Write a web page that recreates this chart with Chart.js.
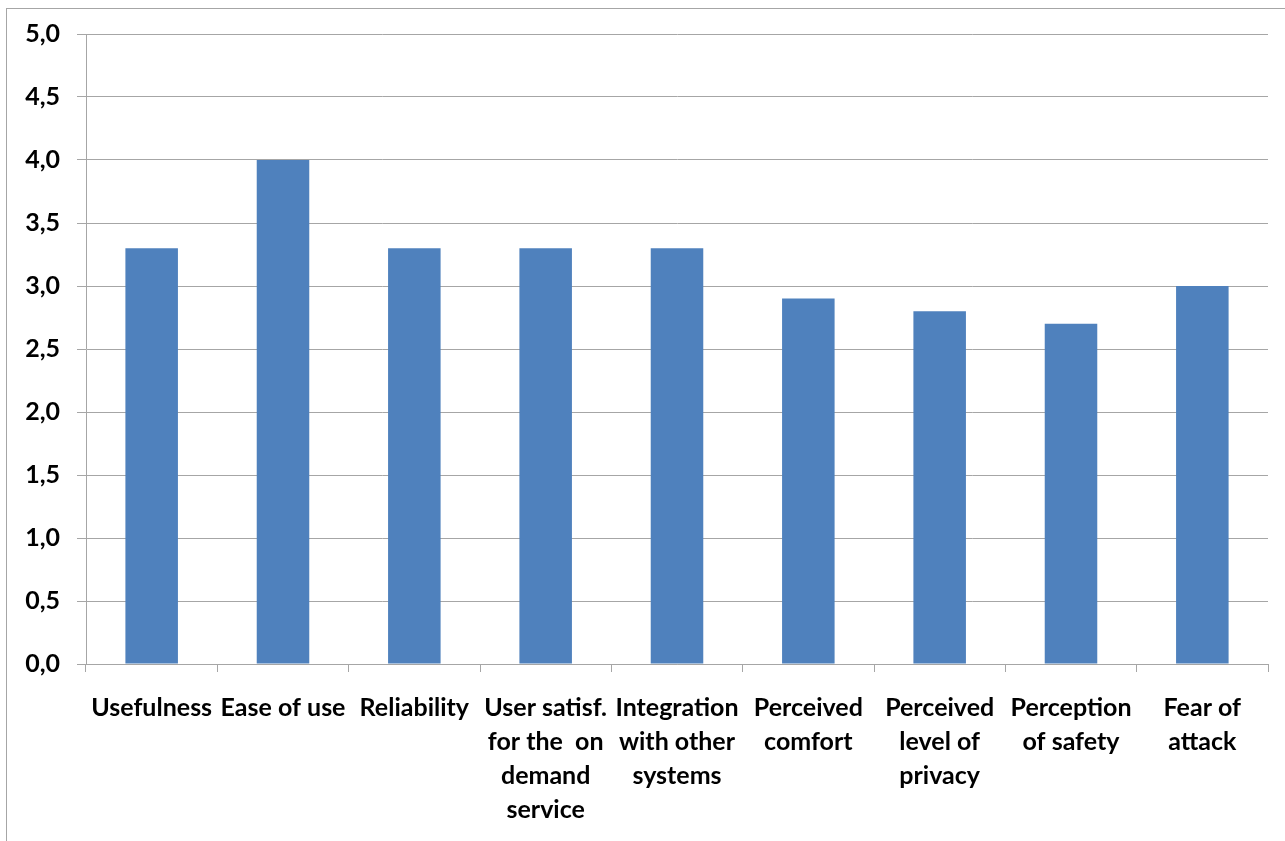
<!DOCTYPE html>
<html>
<head>
<meta charset="utf-8">
<script src="https://cdn.jsdelivr.net/npm/chart.js@4.4.1/dist/chart.umd.min.js"></script>
<style>
  html, body { margin: 0; padding: 0; background: #fff; }
  #frame {
    position: absolute; left: 6px; top: 8px; width: 1300px; height: 860px;
    border-left: 1px solid #a6a6a6; border-top: 1px solid #a6a6a6;
  }
  #wrap { position: absolute; left: 0; top: 0; width: 1285px; height: 841px; }
</style>
</head>
<body>
<div id="frame"></div>
<div id="wrap"><canvas id="barChart"></canvas></div>
<script>
// ── data ─────────────────────────────────────────────────────────────────────
const categories = [
  'Usefulness',
  'Ease of use',
  'Reliability',
  ['User satisf.', 'for the  on', 'demand', 'service'],
  ['Integration', 'with other', 'systems'],
  ['Perceived', 'comfort'],
  ['Perceived', 'level of', 'privacy'],
  ['Perception', 'of safety'],
  ['Fear of', 'attack'],
];
const scores   = [3.3, 4.0, 3.3, 3.3, 3.3, 2.9, 2.8, 2.7, 3.0];
const yTicks   = [0, 0.5, 1, 1.5, 2, 2.5, 3, 3.5, 4, 4.5, 5];

const GRID  = '#a6a6a6';
const FONT  = { family: 'Lato', size: 25, weight: 'bold' };

new Chart(document.getElementById('barChart'), {
  type: 'bar',
  data: {
    labels: categories,
    datasets: [{
      data: scores,
      backgroundColor: '#4f81bd',
      borderWidth: 0,
      categoryPercentage: 1,
      barPercentage: 0.4,
    }],
  },
  options: {
    responsive: true,
    maintainAspectRatio: false,
    animation: false,
    layout: { padding: { left: 0, top: 34, right: 17, bottom: 0 } },
    plugins: {
      legend:  { display: false },
      tooltip: { enabled: false },
    },
    scales: {
      y: {
        min: 0,
        max: 5,
        afterFit: s => { s.width = 86; },
        afterBuildTicks: s => { s.ticks = yTicks.map(v => ({ value: v })); },
        grid:   { color: GRID, tickLength: 9, tickColor: GRID },
        border: { color: GRID },
        ticks: {
          color: '#000',
          font: FONT,
          padding: 17,
          callback: v => v.toFixed(1).replace('.', ','),
        },
      },
      x: {
        afterFit: s => { s.height = 177; },
        grid: { drawOnChartArea: false, tickLength: 8, color: GRID, offset: true },
        border: { color: GRID },
        ticks: {
          color: '#000',
          font: { ...FONT, lineHeight: 1.36 },
          padding: 19,
          maxRotation: 0,
          autoSkip: false,
        },
      },
    },
  },
});
</script>
</body>
</html>
